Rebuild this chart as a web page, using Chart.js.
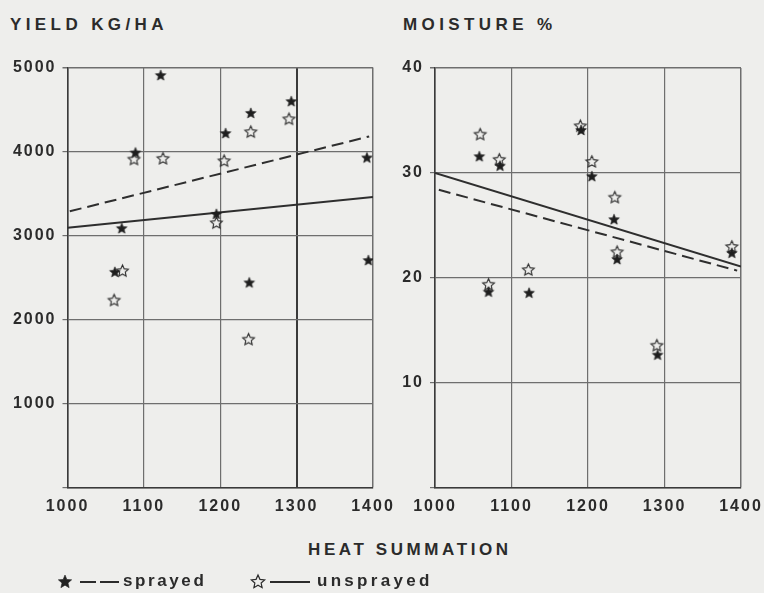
<!DOCTYPE html>
<html>
<head>
<meta charset="utf-8">
<script src="https://cdn.jsdelivr.net/npm/chart.js@4.4.1/dist/chart.umd.min.js"></script>
<style>
  html, body { margin:0; padding:0; background:#eeeeec; }
  #wrap { position:relative; width:764px; height:593px; overflow:hidden; background:#eeeeec; }
  canvas { position:absolute; top:0; }
  .t { position:absolute; font-family:"Liberation Sans", Arial, sans-serif; font-weight:bold; color:#2b2b2b; white-space:nowrap; line-height:20px; }
  .title { font-size:17px; letter-spacing:4.4px; }
  .leg { font-size:17px; letter-spacing:2.6px; }
  svg { position:absolute; overflow:visible; }
</style>
</head>
<body>
<div id="wrap">
  <div class="t title" style="left:10px;top:15px;">YIELD KG/HA</div>
  <div class="t title" style="left:403px;top:15px;">MOISTURE %</div>
  <canvas id="c1" width="400" height="530" style="left:0px;"></canvas>
  <canvas id="c2" width="384" height="530" style="left:380px;"></canvas>
  <div class="t title" style="left:308px;top:540px;letter-spacing:3.6px;">HEAT SUMMATION</div>

  <svg id="legS" style="left:0;top:0;width:764px;height:593px;">
    <polygon id="st1" fill="#222" stroke="#222" stroke-width="0.6"></polygon>
    <line x1="80" y1="582" x2="96" y2="582" stroke="#2b2b2b" stroke-width="2"/>
    <line x1="100" y1="582" x2="119" y2="582" stroke="#2b2b2b" stroke-width="2"/>
    <polygon id="st2" fill="none" stroke="#2b2b2b" stroke-width="1.2"></polygon>
    <line x1="270" y1="582" x2="310" y2="582" stroke="#2b2b2b" stroke-width="2"/>
  </svg>
  <div class="t leg" style="left:123px;top:571px;">sprayed</div>
  <div class="t leg" style="left:317px;top:571px;letter-spacing:3.3px;">unsprayed</div>
</div>
<script>
// ---------- DATA ----------
const xTicks = [1000, 1100, 1200, 1300, 1400];
const yieldTicks = [0, 1000, 2000, 3000, 4000, 5000];
const moistTicks = [0, 10, 20, 30, 40];

const yieldSprayedX = [1062, 1071, 1089, 1122, 1195, 1207, 1238, 1240, 1293, 1392, 1394];
const yieldSprayedY = [2570, 3090, 3990, 4910, 3260, 4220, 2445, 4460, 4600, 3930, 2710];
const yieldUnsprayedX = [1061, 1072, 1087, 1125, 1195, 1205, 1237, 1240, 1290];
const yieldUnsprayedY = [2235, 2584, 3912, 3920, 3155, 3892, 1770, 4237, 4390];
const yieldSprayedLineX = [1003, 1395];
const yieldSprayedLineY = [3290, 4180];
const yieldUnsprayedLineX = [1000, 1400];
const yieldUnsprayedLineY = [3095, 3460];

const moistSprayedX = [1058, 1070, 1085, 1123, 1191, 1205, 1234, 1238, 1291, 1388];
const moistSprayedY = [31.6, 18.7, 30.7, 18.6, 34.1, 29.7, 25.6, 21.8, 12.7, 22.4];
const moistUnsprayedX = [1059, 1070, 1084, 1122, 1190, 1205, 1235, 1238, 1290, 1388];
const moistUnsprayedY = [33.7, 19.4, 31.3, 20.8, 34.5, 31.1, 27.7, 22.5, 13.6, 23.0];
const moistSprayedLineX = [1005, 1395];
const moistSprayedLineY = [28.4, 20.7];
const moistUnsprayedLineX = [1000, 1400];
const moistUnsprayedLineY = [30.0, 21.1];

// ---------- helpers ----------
function starPoints(cx, cy, R, ratio) {
  const pts = [];
  for (let i = 0; i < 10; i++) {
    const r = i % 2 === 0 ? R : R * ratio;
    const a = -Math.PI / 2 + i * Math.PI / 5;
    pts.push([cx + r * Math.cos(a), cy + r * Math.sin(a)]);
  }
  return pts;
}
function starCanvas(R, filled) {
  const s = Math.ceil(R * 2 + 4);
  const c = document.createElement('canvas');
  c.width = s; c.height = s;
  const g = c.getContext('2d');
  const pts = starPoints(s / 2, s / 2 + 0.5, R, filled ? 0.45 : 0.47);
  g.beginPath();
  pts.forEach((p, i) => i ? g.lineTo(p[0], p[1]) : g.moveTo(p[0], p[1]));
  g.closePath();
  if (filled) { g.fillStyle = '#1e1e1e'; g.fill(); g.strokeStyle = '#1e1e1e'; g.lineWidth = 0.6; g.stroke(); }
  else { g.strokeStyle = '#2e2e2e'; g.lineWidth = 1.1; g.stroke(); }
  return c;
}
document.getElementById('st1').setAttribute('points', starPoints(65, 582, 7, 0.45).map(p => p.join(',')).join(' '));
document.getElementById('st2').setAttribute('points', starPoints(258, 582, 7, 0.47).map(p => p.join(',')).join(' '));

const filledStar = starCanvas(5.6, true);
const openStar = starCanvas(6.2, false);

function pts(xs, ys) { return xs.map((x, i) => ({ x: x, y: ys[i] })); }

const spacing = {
  id: 'spacing',
  beforeLayout(c) { c.ctx.letterSpacing = '2px'; },
  beforeDraw(c) { c.ctx.letterSpacing = '2px'; }
};

const tickFont = { family: 'Liberation Sans', size: 16, weight: 'bold' };
const gridCol = '#6e6e6e';

function makeChart(id, d, yTicks, pad, yWidth, thickX) {
  const ymax = yTicks[yTicks.length - 1];
  return new Chart(document.getElementById(id), {
    type: 'scatter',
    data: {
      datasets: [
        { data: pts(d.sx, d.sy), pointStyle: filledStar, pointRadius: 6 },
        { data: pts(d.ux, d.uy), pointStyle: openStar, pointRadius: 6 },
        { data: pts(d.slx, d.sly), showLine: true, pointRadius: 0, borderColor: '#2e2e2e', borderWidth: 2, borderDash: [12, 6] },
        { data: pts(d.ulx, d.uly), showLine: true, pointRadius: 0, borderColor: '#2e2e2e', borderWidth: 2 }
      ]
    },
    options: {
      responsive: false,
      animation: false,
      events: [],
      layout: { padding: pad },
      plugins: { legend: { display: false }, tooltip: { enabled: false } },
      scales: {
        x: {
          type: 'linear', min: xTicks[0], max: xTicks[xTicks.length - 1],
          afterBuildTicks(s) { s.ticks = xTicks.map(v => ({ value: v })); },
          afterFit(s) { s.height = 42; s.paddingLeft = 0; s.paddingRight = 0; },
          grid: {
            drawTicks: false,
            color: ctx => (thickX && ctx.tick && ctx.tick.value === thickX) ? '#3a3a3a' : gridCol,
            lineWidth: ctx => (thickX && ctx.tick && ctx.tick.value === thickX) ? 2 : (ctx.tick && ctx.tick.value === 1400 ? 1.5 : 1.2)
          },
          border: { color: '#3a3a3a', width: 1.6 },
          ticks: { font: tickFont, color: '#2b2b2b', padding: 9, maxRotation: 0, autoSkip: false,
                   callback: v => String(v) }
        },
        y: {
          type: 'linear', min: yTicks[0], max: ymax,
          afterBuildTicks(s) { s.ticks = yTicks.map(v => ({ value: v })); },
          afterFit(s) { s.width = yWidth; s.paddingTop = 0; s.paddingBottom = 0; },
          grid: {
            tickLength: 5,
            color: gridCol,
            lineWidth: ctx => (ctx.tick && ctx.tick.value === ymax) ? 1.5 : 1.2
          },
          border: { color: '#3a3a3a', width: 1.6 },
          ticks: { font: tickFont, color: '#2b2b2b', padding: 6, autoSkip: false,
                   callback: v => v === 0 ? '' : String(v) }
        }
      }
    },
    plugins: [spacing]
  });
}

makeChart('c1', {
  sx: yieldSprayedX, sy: yieldSprayedY, ux: yieldUnsprayedX, uy: yieldUnsprayedY,
  slx: yieldSprayedLineX, sly: yieldSprayedLineY, ulx: yieldUnsprayedLineX, uly: yieldUnsprayedLineY
}, yieldTicks, { top: 67.5, left: 0, right: 27, bottom: 0 }, 67.5, 1300);

makeChart('c2', {
  sx: moistSprayedX, sy: moistSprayedY, ux: moistUnsprayedX, uy: moistUnsprayedY,
  slx: moistSprayedLineX, sly: moistSprayedLineY, ulx: moistUnsprayedLineX, uly: moistUnsprayedLineY
}, moistTicks, { top: 68, left: 0, right: 23, bottom: 0 }, 55, null);
</script>
</body>
</html>
